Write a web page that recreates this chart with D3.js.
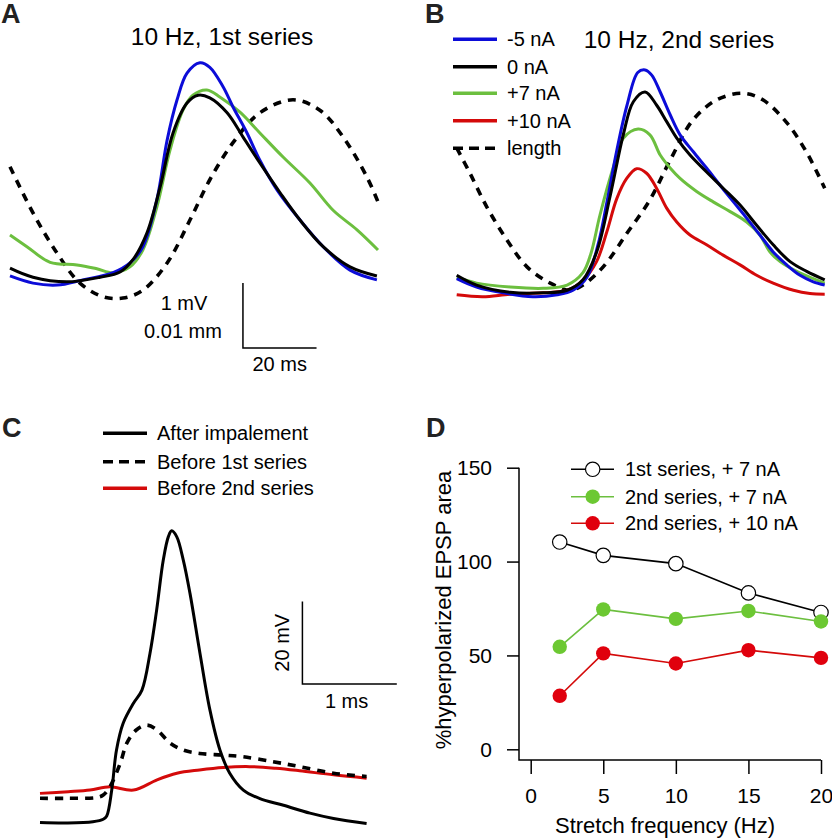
<!DOCTYPE html>
<html><head><meta charset="utf-8">
<script src="https://cdn.jsdelivr.net/npm/d3@7"></script>
<style>
body{margin:0;background:#fff}
svg{display:block}
text{font-family:"Liberation Sans",Arial,Helvetica,sans-serif;fill:#000}
</style>
</head><body>
<svg id="chart" width="832" height="839"></svg>
<script>
// ---------- DATA ----------
// Panel A (10 Hz, 1st series): time (ms), membrane potential (mV), length (µm)
const aBlue = [[0,0.37],[6.25,0.26],[12.8,0.23],[19.8,0.31],[28,0.42],[32.6,0.57],[36.1,0.82],[39.9,1.54],[42.7,2.46],[45.4,3.08],[48.1,3.49],[51.6,3.65],[54.3,3.58],[57.9,3.28],[60.6,2.97],[64.4,2.57],[67.9,2.15],[72.6,1.69],[78.8,1.23],[85.1,0.82],[92.4,0.46],[99.7,0.31]];
const aBlack = [[0,0.49],[6.25,0.35],[15.5,0.28],[24.5,0.35],[29.9,0.43],[33.4,0.62],[37.2,1.03],[40.8,1.74],[44.3,2.57],[48.1,3.03],[51.1,3.15],[54.3,3.11],[59,2.88],[63.3,2.51],[67.9,2.11],[73.4,1.65],[78.8,1.23],[85.1,0.82],[92.4,0.51],[99.7,0.37]];
const aGreen = [[0,1.0],[4.6,0.82],[10.9,0.58],[18.2,0.54],[23.6,0.48],[28,0.42],[32.6,0.51],[36.1,0.77],[39.9,1.43],[43.5,2.31],[47,2.92],[49.7,3.15],[53.5,3.23],[57.1,3.12],[62.5,2.89],[67.9,2.57],[74.2,2.2],[81.5,1.8],[87.8,1.38],[94.3,1.08],[100,0.77]];
const aLength = [[0,20.5],[6.25,13.4],[12.8,7.2],[19,2.6],[25.3,0.5],[30.7,0.3],[36.1,1.5],[42.7,5.7],[48.9,12.3],[54.3,18.5],[60.6,24.2],[67.9,28.8],[76.9,30.8],[84.2,29.2],[90.5,25.1],[97,18.9],[100,15.1]];

// Panel B (10 Hz, 2nd series)
const bBlue = [[0,0.33],[5.4,0.2],[12.6,0.11],[20.7,0.05],[27.3,0.08],[31.6,0.15],[35.4,0.35],[38.4,0.85],[40.8,1.5],[43.5,2.3],[46.3,3.0],[49.2,3.5],[51.2,3.54],[53,3.46],[55.3,3.2],[58,2.85],[60.7,2.54],[64.3,2.28],[67.9,2.03],[71.5,1.77],[75.2,1.51],[78.8,1.26],[82.4,1.0],[86,0.74],[89.7,0.54],[93.3,0.38],[96.9,0.28],[100,0.23]];
const bBlack = [[0,0.38],[5.4,0.23],[14.5,0.12],[23.5,0.11],[30,0.15],[34.3,0.31],[38.1,0.75],[41.7,1.6],[45.3,2.55],[48,3.05],[51.2,3.2],[54.3,3.0],[57.1,2.74],[59.8,2.49],[63.4,2.23],[67.9,1.97],[72.4,1.72],[77,1.46],[81.5,1.15],[86,0.85],[90.6,0.59],[95.1,0.44],[100,0.31]];
const bGreen = [[0,0.35],[5.4,0.26],[14.5,0.2],[23.5,0.18],[30,0.23],[34.3,0.42],[36.5,0.72],[38.9,1.3],[42.6,2.05],[45.3,2.49],[49.3,2.63],[52.5,2.54],[55.3,2.23],[58,2.03],[60.7,1.87],[65.2,1.67],[69.7,1.51],[74.3,1.36],[78.8,1.2],[82.4,1.0],[85.1,0.74],[87.9,0.59],[92.4,0.44],[96.9,0.33],[100,0.26]];
const bRed = [[0,0.08],[7.1,0.05],[14.5,0.09],[23.5,0.11],[30,0.15],[34.3,0.3],[38,0.59],[40.8,1.05],[43.5,1.56],[46.2,1.87],[48.9,2.02],[51.6,1.95],[54.3,1.72],[57.1,1.41],[59.8,1.2],[63.4,1.0],[67.9,0.85],[72.4,0.69],[77,0.54],[81.5,0.38],[86,0.26],[91.5,0.15],[96,0.1],[100,0.09]];
const bLength = [[0,23.4],[3.6,19.5],[8.2,14.3],[13.7,9.2],[19.1,5.1],[25.4,2.6],[30.8,1.5],[34.3,2.3],[39.8,5.1],[46.3,10.3],[52.5,15.4],[58,21.5],[64.2,27.7],[70.7,30.8],[77.8,31.8],[83.2,30.8],[89.8,27.2],[95.2,22.6],[100,17.2]];
const bLegendLabels = ["-5 nA","0 nA","+7 nA","+10 nA","length"];

// Panel C: time (ms), potential (mV)
const cAfter = [[0,1.8],[0.29,1.7],[0.56,2.0],[0.67,2.6],[0.707,3.4],[0.76,9.7],[0.81,19.4],[0.88,25.9],[0.99,30.8],[1.08,34.0],[1.165,42.9],[1.236,53.5],[1.306,65.6],[1.36,71.3],[1.395,72.7],[1.448,71.3],[1.518,65.6],[1.589,57.5],[1.695,42.9],[1.8,29.2],[1.907,19.4],[2.01,13.8],[2.154,9.7],[2.33,7.6],[2.58,6.0],[2.86,4.1],[3.11,2.8],[3.46,1.6]];
const cBefore1 = [[0,7.7],[0.28,7.7],[0.6,7.9],[0.67,8.5],[0.74,10.5],[0.85,16.2],[0.92,21.1],[1.02,24.3],[1.13,25.5],[1.24,24.3],[1.38,21.1],[1.52,19.4],[1.69,18.6],[1.94,18.2],[2.15,17.8],[2.47,16.6],[2.75,15.4],[3.11,13.8],[3.46,13.0]];
const cBefore2 = [[0,8.9],[0.3,9.3],[0.53,9.7],[0.74,10.5],[0.99,9.7],[1.24,12.2],[1.45,13.8],[1.69,14.6],[1.94,15.2],[2.22,15.4],[2.5,15.0],[2.75,14.4],[3.11,13.4],[3.46,12.6]];
const cLegendLabels = ["After impalement","Before 1st series","Before 2nd series"];

// Panel D
const freqs = [2,5,10,15,20];
const s1plus7 = [110.4,103.3,98.9,83.3,72.9];
const s2plus7 = [54.6,74.5,69.5,73.7,68.1];
const s2plus10 = [28.5,51.1,45.7,52.8,48.7];
const dLegendLabels = ["1st series, + 7 nA","2nd series, + 7 nA","2nd series, + 10 nA"];
const dXTicks = [0,5,10,15,20];
const dYTicks = [0,50,100,150];

// ---------- STYLE ----------
const BLUE="#0c0cd8", BLACK="#000", GREEN="#6cbf3f", RED="#d40a0a";
const GREEN_M="#6cc832", RED_M="#e0000d";
const DASH="8,7";

const svg = d3.select("#chart");
svg.append("rect").attr("width",832).attr("height",839).attr("fill","#fff");

function panelLetter(t,x,y){
  svg.append("text").attr("x",x).attr("y",y).text(t)
    .attr("font-size",27).attr("font-weight","bold").style("fill","#222");
}
function trace(g,data,x,y,color,dash){
  g.append("path").datum(data)
    .attr("d",d3.line().x(d=>x(d[0])).y(d=>y(d[1])).curve(d3.curveCatmullRom.alpha(0.5)))
    .attr("fill","none").attr("stroke",color).attr("stroke-width",dash?3.6:3)
    .attr("stroke-dasharray",dash||null).attr("stroke-linejoin","round");
}

// ---------- PANEL A ----------
{
  const x = d3.scaleLinear().domain([0,100]).range([10,378]);
  const y = d3.scaleLinear().domain([0,4]).range([300,40]);
  const yL = d3.scaleLinear().domain([0,40]).range([300,40]);
  const g = svg.append("g");
  panelLetter("A",1,23);
  g.append("text").attr("x",222).attr("y",45).attr("text-anchor","middle").attr("font-size",24.5).text("10 Hz, 1st series");
  trace(g,aLength,x,yL,BLACK,DASH);
  trace(g,aGreen,x,y,GREEN);
  trace(g,aBlue,x,y,BLUE);
  trace(g,aBlack,x,y,BLACK);
  // scale bar: 20 ms, 1 mV / 0.01 mm
  const t0=63.3, v0=-0.74;
  g.append("path").attr("d",`M${x(t0)},${y(v0+1)}V${y(v0)}H${x(t0+20)}`)
    .attr("fill","none").attr("stroke","#000").attr("stroke-width",1.5);
  g.append("text").attr("x",184).attr("y",310).attr("text-anchor","middle").attr("font-size",20).text("1 mV");
  g.append("text").attr("x",183).attr("y",338).attr("text-anchor","middle").attr("font-size",20).text("0.01 mm");
  g.append("text").attr("x",x(t0+10)).attr("y",371).attr("text-anchor","middle").attr("font-size",20).text("20 ms");
}

// ---------- PANEL B ----------
{
  const x = d3.scaleLinear().domain([0,100]).range([456.7,824.7]);
  const y = d3.scaleLinear().domain([0,4]).range([300,40]);
  const yL = d3.scaleLinear().domain([0,40]).range([300,40]);
  const g = svg.append("g");
  panelLetter("B",425,23);
  g.append("text").attr("x",679).attr("y",48).attr("text-anchor","middle").attr("font-size",24.5).text("10 Hz, 2nd series");
  trace(g,bLength,x,yL,BLACK,DASH);
  trace(g,bRed,x,y,RED);
  trace(g,bGreen,x,y,GREEN);
  trace(g,bBlue,x,y,BLUE);
  trace(g,bBlack,x,y,BLACK);
  const cols=[BLUE,BLACK,GREEN,RED,BLACK];
  const rows=[39.3,66.7,93.3,120.7,148.3];
  bLegendLabels.forEach((lab,i)=>{
    g.append("line").attr("x1",453).attr("x2",497).attr("y1",rows[i]).attr("y2",rows[i])
      .attr("stroke",cols[i]).attr("stroke-width",3.5).attr("stroke-dasharray",i===4?"10,6":null);
    g.append("text").attr("x",507).attr("y",rows[i]+7).attr("font-size",20).text(lab);
  });
}

// ---------- PANEL C ----------
{
  const x = d3.scaleLinear().domain([0,3.46]).range([40,366.6]);
  const y = d3.scaleLinear().domain([0,80]).range([830,500.8]);
  const g = svg.append("g");
  panelLetter("C",2,437);
  trace(g,cBefore2,x,y,RED);
  trace(g,cBefore1,x,y,BLACK,DASH);
  trace(g,cAfter,x,y,BLACK);
  const cols=[BLACK,BLACK,RED];
  const rows=[433.3,461.7,488.3];
  cLegendLabels.forEach((lab,i)=>{
    g.append("line").attr("x1",103).attr("x2",147).attr("y1",rows[i]).attr("y2",rows[i])
      .attr("stroke",cols[i]).attr("stroke-width",3.5).attr("stroke-dasharray",i===1?"10,6":null);
    g.append("text").attr("x",157).attr("y",rows[i]+7).attr("font-size",20).text(lab);
  });
  // scale bar 1 ms, 20 mV
  const t0=2.78, v0=35.5;
  g.append("path").attr("d",`M${x(t0)},${y(v0+20)}V${y(v0)}H${x(t0+1)}`)
    .attr("fill","none").attr("stroke","#000").attr("stroke-width",1.5);
  g.append("text").attr("transform",`translate(289,${(y(v0)+y(v0+20))/2}) rotate(-90)`)
    .attr("text-anchor","middle").attr("font-size",20).text("20 mV");
  g.append("text").attr("x",x(t0+0.5)-3).attr("y",708).attr("text-anchor","middle").attr("font-size",20).text("1 ms");
}

// ---------- PANEL D ----------
{
  const x = d3.scaleLinear().domain([0,20]).range([530.7,821]);
  const y = d3.scaleLinear().domain([0,150]).range([749.3,467.7]);
  const g = svg.append("g");
  panelLetter("D",426,437);
  const axX = 519, axY = 760;
  const ya = g.append("g").attr("transform",`translate(${axX},0)`)
    .call(d3.axisLeft(y).tickValues(dYTicks).tickSize(12).tickPadding(15).tickSizeOuter(0));
  ya.select(".domain").remove();
  ya.selectAll(".tick line").attr("stroke","#000").attr("stroke-width",1.5);
  ya.selectAll(".tick text").attr("font-size",21).attr("font-family",null).style("fill","#000");
  const xa = g.append("g").attr("transform",`translate(0,${axY})`)
    .call(d3.axisBottom(x).tickValues(dXTicks).tickSize(14).tickPadding(14).tickSizeOuter(0));
  xa.select(".domain").remove();
  xa.selectAll(".tick line").attr("stroke","#000").attr("stroke-width",1.5);
  xa.selectAll(".tick text").attr("font-size",21).attr("font-family",null).style("fill","#000");
  g.append("path").attr("d",`M${axX},${y(150)}V${axY}H${x(20)}`).attr("fill","none").attr("stroke","#000").attr("stroke-width",1.5);
  g.append("text").attr("x",665).attr("y",833).attr("text-anchor","middle").attr("font-size",22).text("Stretch frequency (Hz)");
  g.append("text").attr("transform","translate(450.7,610) rotate(-90)").attr("text-anchor","middle").attr("font-size",22).text("%hyperpolarized EPSP area");

  const series=[
    {vals:s1plus7, line:BLACK, fill:"#fff", stroke:BLACK},
    {vals:s2plus7, line:GREEN, fill:GREEN_M, stroke:"none"},
    {vals:s2plus10, line:RED, fill:RED_M, stroke:"none"}
  ];
  const line = d3.line().x((d,i)=>x(freqs[i])).y(d=>y(d));
  series.forEach(s=>{
    g.append("path").datum(s.vals).attr("d",line).attr("fill","none").attr("stroke",s.line).attr("stroke-width",1.6);
    g.selectAll(null).data(s.vals).enter().append("circle")
      .attr("cx",(d,i)=>x(freqs[i])).attr("cy",d=>y(d)).attr("r",7.2)
      .attr("fill",s.fill).attr("stroke",s.stroke).attr("stroke-width",1.2);
  });
  const rows=[469.3,496.7,523.3];
  series.forEach((s,i)=>{
    g.append("line").attr("x1",571).attr("x2",614).attr("y1",rows[i]).attr("y2",rows[i]).attr("stroke",s.line).attr("stroke-width",1.6);
    g.append("circle").attr("cx",592.7).attr("cy",rows[i]).attr("r",7.2).attr("fill",s.fill).attr("stroke",s.stroke).attr("stroke-width",1.2);
    g.append("text").attr("x",625).attr("y",rows[i]+7).attr("font-size",20).text(dLegendLabels[i]);
  });
}
</script>
</body></html>
